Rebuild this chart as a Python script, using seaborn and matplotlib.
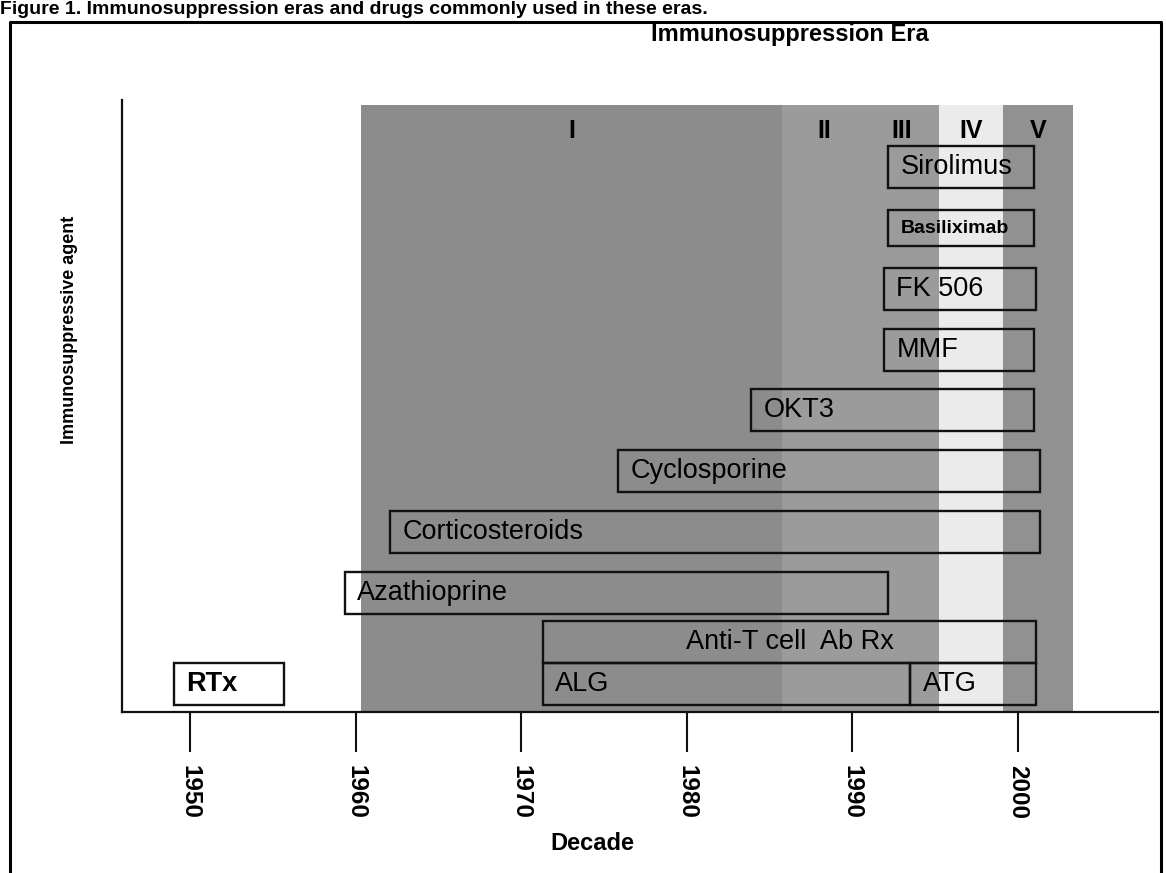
import numpy as np
import matplotlib.pyplot as plt
import seaborn as sns
from matplotlib.lines import Line2D

# Eras of immunosuppression (years)
era_names = ['I', 'II', 'III', 'IV', 'V']
era_start = [1960.3, 1985.75, 1990.8, 1995.2, 1999.1]
era_end = [1985.75, 1990.8, 1995.2, 1999.1, 2003.3]

# Drugs, top to bottom, with first / last year on the chart
drugs = ['Sirolimus', 'Basiliximab', 'FK 506', 'MMF', 'OKT3',
         'Cyclosporine', 'Corticosteroids', 'Azathioprine']
drug_start = [1992.15, 1992.15, 1991.9, 1991.9, 1983.9, 1975.85, 1962.1, 1959.35]
drug_end = [2000.97, 2000.97, 2001.1, 2000.97, 2000.97, 2001.33, 2001.33, 1992.15]

# Antibody therapy block
ab_label = 'Anti-T cell  Ab Rx'
ab_start, ab_end = 1971.3, 2001.1
sub_names = ['ALG', 'ATG']
sub_start = [1971.3, 1993.5]
sub_end = [1993.5, 2001.1]

# Renal transplant
rtx_label = 'RTx'
rtx_start, rtx_end = 1949.0, 1955.7

decades = [1950, 1960, 1970, 1980, 1990, 2000]

# ---- style
sns.set_style('white')
plt.rcParams['font.family'] = ['Liberation Sans', 'DejaVu Sans']
plt.rcParams['text.color'] = 'black'
plt.rcParams['axes.labelcolor'] = 'black'
plt.rcParams['xtick.color'] = 'black'

W, H = 1166, 873
fig = plt.figure(figsize=(W / 100, H / 100), dpi=100)
ax = fig.add_axes([122 / W, 1 - 712 / H, (1158 - 122) / W, (712 - 100) / H])
ax.set_xlim(1945.89, 2008.45)
ax.set_ylim(8.96, -1.107)

# era shading
era_colors = ['#8c8c8c', '#9b9b9b', '#9b9b9b', '#ebebeb', '#919191']
for s, e, c, name in zip(era_start, era_end, era_colors, era_names):
    ax.axvspan(s, e, ymin=0, ymax=0.992, color=c, lw=0, zorder=0)
    ax.text((s + e) / 2, -0.59, name, ha='center', va='center',
            fontsize=18, fontweight='bold', zorder=3)

box_kw = dict(fill=False, edgecolor='#111111', linewidth=1.7, zorder=2)
label_kw = dict(textcoords='offset points', xytext=(9, 0), ha='left',
                va='center', fontsize=19.5, zorder=3)

lanes = np.arange(len(drugs))
heights = [0.59 if d == 'Basiliximab' else 0.69 for d in drugs]
ax.barh(lanes, np.array(drug_end) - np.array(drug_start), left=drug_start,
        height=heights, **box_kw)
for lane, name, s in zip(lanes, drugs, drug_start):
    if name == 'Basiliximab':
        ax.annotate(name, xy=(s, lane), **{**label_kw, 'fontsize': 14},
                    fontweight='bold')
    else:
        ax.annotate(name, xy=(s, lane), **label_kw)

# antibody block
ab_lane, sub_lane = 7.81, 8.50
ax.barh(ab_lane, ab_end - ab_start, left=ab_start, height=0.69, **box_kw)
ax.text((ab_start + ab_end) / 2, ab_lane, ab_label, ha='center', va='center',
        fontsize=19.5, zorder=3)
ax.barh([sub_lane] * 2, np.array(sub_end) - np.array(sub_start), left=sub_start,
        height=0.69, **box_kw)
for name, s in zip(sub_names, sub_start):
    ax.annotate(name, xy=(s, sub_lane), **label_kw)

# RTx
ax.barh(sub_lane, rtx_end - rtx_start, left=rtx_start, height=0.69,
        fill=True, facecolor='white', edgecolor='#111111', linewidth=1.7, zorder=2)
ax.annotate(rtx_label, xy=(rtx_start, sub_lane), **label_kw, fontweight='bold')

# axes
for side in ['top', 'right']:
    ax.spines[side].set_visible(False)
for side in ['left', 'bottom']:
    ax.spines[side].set_color('#111111')
    ax.spines[side].set_linewidth(1.6)
ax.set_yticks([])
ax.set_xticks(decades)
ax.set_xticklabels([str(d) for d in decades], rotation=270,
                   fontsize=17.5, fontweight='bold')
ax.tick_params(axis='x', bottom=True, length=29, width=1.5, direction='out',
               pad=9, color='#111111')
ax.set_xlabel('Decade', fontsize=17, fontweight='bold')
ax.xaxis.set_label_coords((592 - 122) / 1036, (712 - 832) / 612)
ax.set_ylabel('Immunosuppressive agent', fontsize=13, fontweight='bold')
ax.yaxis.set_label_coords((78 - 122) / 1036, (712 - 330) / 612)

fig.text(790 / W, 1 - 34 / H, 'Immunosuppression Era', ha='center', va='center',
         fontsize=17, fontweight='bold')
fig.text(0.0, 1 - 1 / H,
         'Figure 1. Immunosuppression eras and drugs commonly used in these eras.',
         ha='left', va='top', fontsize=14, fontweight='bold')

# outer frame
fig.add_artist(Line2D([10 / W, 10 / W, 1161 / W, 1161 / W],
                      [0, 1 - 22 / H, 1 - 22 / H, 0],
                      transform=fig.transFigure, color='black', lw=2.2))

fig.savefig('out.png', dpi=100)
